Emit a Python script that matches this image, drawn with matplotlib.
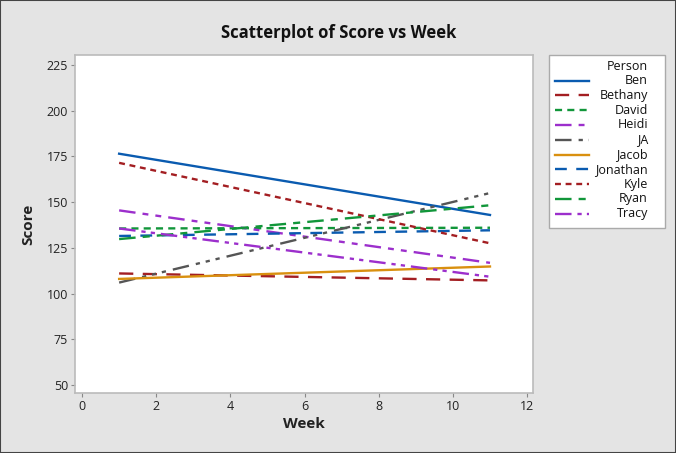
import matplotlib
matplotlib.use("Agg")
import matplotlib.pyplot as plt
from matplotlib.lines import Line2D
from matplotlib.patches import Rectangle

plt.rcParams['font.family'] = ['Open Sans', 'DejaVu Sans']

persons = ["Ben", "Bethany", "David", "Heidi", "JA", "Jacob", "Jonathan", "Kyle", "Ryan", "Tracy"]
weeks = [1, 11]
start_scores = [176.5, 111.0, 135.6, 145.5, 106.0, 108.0, 131.5, 171.5, 129.8, 135.6]
end_scores = [143.0, 107.2, 136.0, 116.8, 155.0, 114.8, 134.6, 127.5, 148.3, 109.2]
x_ticks = [0, 2, 4, 6, 8, 10, 12]
y_ticks = [50, 75, 100, 125, 150, 175, 200, 225]

colors = ["#0A5BB0", "#A31E22", "#11963A", "#9C2FCC", "#555555",
          "#D9900F", "#0A5BB0", "#A31E22", "#11963A", "#9C2FCC"]
styles = ["-", (0, (6, 4)), (0, (3, 2.2)), (0, (7, 3, 2.5, 3, 2.5, 3)),
          (0, (7, 3, 1.8, 2.5, 1.8, 2.5, 1.8, 3)), "-", (0, (5, 4)),
          (0, (2.5, 2)), (0, (7, 3, 3, 3)), (0, (7, 2.5, 1.8, 2.2, 1.8, 2.5))]

W, H = 676, 453
fig = plt.figure(figsize=(W / 100, H / 100), dpi=100)
fig.patch.set_facecolor("#E4E4E4")
fig.patches.append(Rectangle((0, 0), 1, 1, transform=fig.transFigure, fill=False,
                             edgecolor="#444444", linewidth=1.5))

def fx(p):
    return p / W

def fy(p):
    return 1 - p / H

ax = fig.add_axes([fx(75), fy(393), fx(533) - fx(75), fy(55) - fy(393)])
ax.set_facecolor("white")
for i, p in enumerate(persons):
    ax.plot(weeks, [start_scores[i], end_scores[i]], color=colors[i],
            linestyle=styles[i], linewidth=1.7, label=p)

ax.set_xlim(-0.19, 12.16)
ax.set_ylim(45.6, 230.5)
ax.set_xticks(x_ticks)
ax.set_yticks(y_ticks)
ax.tick_params(axis="both", direction="out", length=3, color="#888888",
               labelsize=9, labelcolor="#222222", pad=2)
for s in ax.spines.values():
    s.set_color("#BBBBBB")
    s.set_linewidth(1.2)
ax.set_xlabel("Week", fontsize=11, fontweight="bold", color="#222222", labelpad=3)
ax.set_ylabel("Score", fontsize=11, fontweight="bold", color="#222222", labelpad=8)

fig.text(fx(339), fy(33), "Scatterplot of Score vs Week",
         ha="center", va="center", fontsize=12, fontweight="bold", color="#111111")

# Legend (manual)
lx0, lx1, ly0, ly1 = 549, 665, 55, 228
fig.patches.append(Rectangle((fx(lx0), fy(ly1)), fx(lx1) - fx(lx0), fy(ly0) - fy(ly1),
                             transform=fig.transFigure, facecolor="white",
                             edgecolor="#AAAAAA", linewidth=1))
fig.text(fx(648), fy(66), "Person", ha="right", va="center", fontsize=9, color="#111111")
for i, p in enumerate(persons):
    yy = fy(80.5 + i * 14.8)
    fig.add_artist(Line2D([fx(555), fx(589)], [yy, yy], transform=fig.transFigure,
                          color=colors[i], linestyle=styles[i], linewidth=1.7))
    fig.text(fx(648), yy, p, ha="right", va="center", fontsize=9, color="#111111")

fig.savefig("out.png", dpi=100, facecolor=fig.get_facecolor())
